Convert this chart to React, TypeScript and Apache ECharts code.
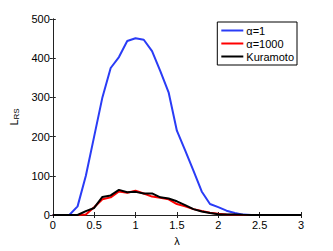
import React, { useEffect, useRef } from "react";
import * as echarts from "echarts";

const lambdas = [0, 0.1, 0.2, 0.3, 0.4, 0.5, 0.6, 0.7, 0.8, 0.9, 1.0, 1.1, 1.2, 1.3, 1.4, 1.5, 1.6, 1.7, 1.8, 1.9, 2.0, 2.1, 2.2, 2.3, 2.4, 2.5, 2.6, 2.7, 2.8, 2.9, 3.0];
const alpha1 = [0, 0, 0, 22, 100, 200, 300, 375, 403, 444, 451, 447, 418, 367, 313, 215, 165, 113, 60, 28, 20, 11, 5, 1, 0, 0, 0, 0, 0, 0, 0];
const alpha1000 = [0, 0, 0, 0, 1, 20, 40, 45, 60, 57, 62, 55, 47, 44, 40, 28, 22, 15, 10, 6, 3, 1, 0.5, 0.3, 0.2, 0.1, 0, 0, 0, 0, 0];
const kuramoto = [0, 0, 0, 0, 10, 18, 46, 50, 64, 58, 59, 55, 55, 45, 42, 35, 25, 15, 9, 5, 2, 1, 1, 0.5, 0.2, 0.1, 0, 0, 0, 0, 0];
const xTicks = [0, 0.5, 1, 1.5, 2, 2.5, 3];
const yTicks = [0, 100, 200, 300, 400, 500];

const pairs = (ys: number[]) => lambdas.map((x, i) => [x, ys[i]]);

export default function App() {
  const ref = useRef<HTMLDivElement>(null);
  useEffect(() => {
    const chart = echarts.init(ref.current!, null, { renderer: "svg" });
    const font = "Liberation Sans, Arial, Helvetica, sans-serif";
    const lbl = { color: "#000", fontSize: 11, fontFamily: font };
    const axLine = { show: true, lineStyle: { color: "#222", width: 1 } };
    const tick = { show: true, inside: true, length: 3, lineStyle: { color: "#222" } };
    chart.setOption({
      animation: false,
      backgroundColor: "#fff",
      grid: { left: 43, right: 32, top: 19, bottom: 28, containLabel: false },
      xAxis: [
        {
          type: "value", min: 0, max: 3, interval: 0.5,
          axisLine: axLine, axisTick: tick, splitLine: { show: false },
          axisLabel: { ...lbl, margin: 4, formatter: (v: number) => (xTicks.includes(v) ? String(v) : "") },
          name: "λ", nameLocation: "middle", nameGap: 20, nameTextStyle: { ...lbl },
        },
        {
          type: "value", min: 0, max: 3, interval: 0.5, position: "top",
          axisLine: axLine, axisTick: tick, axisLabel: { show: false }, splitLine: { show: false },
        },
      ],
      yAxis: [
        {
          type: "value", min: 0, max: 500, interval: 100,
          axisLine: axLine, axisTick: tick, splitLine: { show: false },
          axisLabel: { ...lbl, margin: 3, formatter: (v: number) => (yTicks.includes(v) ? String(v) : "") },
          name: "{a|L}{b|RS}", nameLocation: "middle", nameGap: 27,
          nameTextStyle: {
            rich: {
              a: { fontSize: 11, fontFamily: font, color: "#000" },
              b: { fontSize: 8, fontFamily: font, color: "#000", verticalAlign: "bottom", padding: [6, 0, 0, 0] },
            },
          },
        },
        {
          type: "value", min: 0, max: 500, interval: 100, position: "right",
          axisLine: axLine, axisTick: tick, axisLabel: { show: false }, splitLine: { show: false },
        },
      ],
      legend: {
        orient: "vertical", right: 36, top: 22,
        backgroundColor: "#fff", borderColor: "#000", borderWidth: 1,
        padding: [3, 3, 3, 4], itemGap: 2, itemWidth: 22, itemHeight: 12,
        textStyle: { ...lbl, padding: [0, 0, 0, -2] },
        data: [
          { name: "α=1", icon: "path://M0,5 L22,5 L22,7 L0,7 Z" },
          { name: "α=1000", icon: "path://M0,5 L22,5 L22,7 L0,7 Z" },
          { name: "Kuramoto", icon: "path://M0,5 L22,5 L22,7 L0,7 Z" },
        ],
      },
      series: [
        { name: "α=1", type: "line", data: pairs(alpha1), showSymbol: false, lineStyle: { color: "#2a3cf6", width: 2 }, itemStyle: { color: "#2a3cf6" } },
        { name: "α=1000", type: "line", data: pairs(alpha1000), showSymbol: false, lineStyle: { color: "#ff0000", width: 2 }, itemStyle: { color: "#ff0000" } },
        { name: "Kuramoto", type: "line", data: pairs(kuramoto), showSymbol: false, lineStyle: { color: "#000", width: 2 }, itemStyle: { color: "#000" } },
      ],
    });
    return () => chart.dispose();
  }, []);
  return <div ref={ref} style={{ width: 333, height: 251, position: "absolute", left: 0, top: 0 }} />;
}
